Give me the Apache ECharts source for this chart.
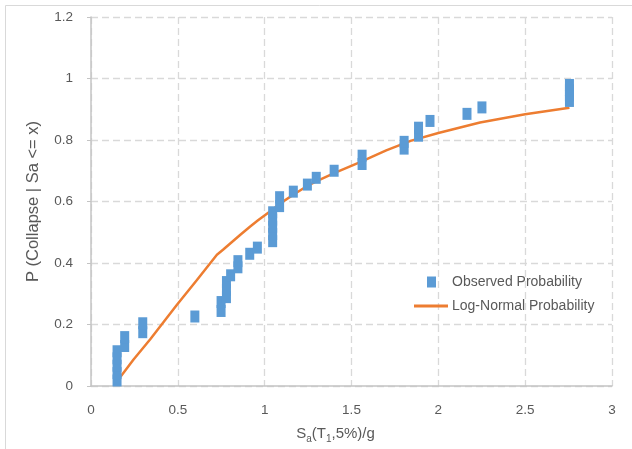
<!DOCTYPE html>
<html>
<head>
<meta charset="utf-8">
<script src="https://cdn.jsdelivr.net/npm/echarts@6/dist/echarts.min.js"></script>
<style>
  html, body { margin: 0; padding: 0; background: #fff; }
  #chart { width: 632px; height: 449px; }
</style>
</head>
<body>
<div id="chart"></div>
<script>
// Observed collapse fractions, one entry per record (Sa in g, cumulative probability)
const obsSa = [0.15, 0.15, 0.15, 0.15, 0.15, 0.194, 0.194, 0.298, 0.298, 0.598,
  0.749, 0.749, 0.78, 0.78, 0.78, 0.804, 0.846, 0.846, 0.914, 0.958,
  1.046, 1.046, 1.046, 1.046, 1.046, 1.086, 1.086, 1.165, 1.246, 1.297,
  1.40, 1.561, 1.561, 1.803, 1.803, 1.886, 1.886, 1.952, 2.165, 2.251,
  2.755, 2.755, 2.755, 2.755];
const obsP = [0.018, 0.042, 0.066, 0.09, 0.113, 0.13, 0.159, 0.175, 0.204, 0.226,
  0.244, 0.273, 0.289, 0.313, 0.338, 0.36, 0.386, 0.406, 0.43, 0.45,
  0.471, 0.494, 0.518, 0.541, 0.565, 0.585, 0.614, 0.632, 0.655, 0.677,
  0.70, 0.722, 0.749, 0.772, 0.794, 0.814, 0.84, 0.862, 0.885, 0.906,
  0.927, 0.945, 0.962, 0.979];

// Fitted log-normal fragility curve
const fitSa = [0.17, 0.245, 0.34, 0.495, 0.61, 0.725, 0.76, 0.86, 0.915, 0.96,
  1.05, 1.09, 1.165, 1.24, 1.3, 1.4, 1.55, 1.62, 1.7, 1.84, 2.0,
  2.24, 2.5, 2.755];
const fitP = [0.03, 0.086, 0.151, 0.264, 0.345, 0.427, 0.443, 0.492, 0.518, 0.538,
  0.576, 0.594, 0.622, 0.649, 0.666, 0.692, 0.728, 0.746, 0.766, 0.797, 0.823,
  0.857, 0.884, 0.905];

const seriesNames = ['Observed Probability', 'Log-Normal Probability'];

const FONT = "'Liberation Sans', Arial, sans-serif";
const TEXT = '#595959';
const GRID = '#d9d9d9';
const AXIS = '#c4c4c4';

const chart = echarts.init(document.getElementById('chart'), null, { renderer: 'canvas' });

chart.setOption({
  animation: false,
  backgroundColor: '#ffffff',
  graphic: [{
    type: 'rect',
    shape: { x: 5.5, y: 5.5, width: 700, height: 500 },
    style: { fill: 'none', stroke: '#d9d9d9', lineWidth: 1 },
    silent: true
  }],
  grid: { left: 91, top: 17, right: 20, bottom: 62.5, containLabel: false },
  legend: [{
    data: [seriesNames[0]],
    orient: 'vertical',
    left: 422, top: 270,
    itemWidth: 9, itemHeight: 11,
    icon: 'rect',
    textStyle: { color: TEXT, fontFamily: FONT, fontSize: 14, padding: [0, 0, 0, 11] }
  }, {
    data: [seriesNames[1]],
    orient: 'vertical',
    left: 409, top: 294,
    itemWidth: 34, itemHeight: 3,
    icon: 'rect',
    textStyle: { color: TEXT, fontFamily: FONT, fontSize: 14, padding: [0, 0, 0, -1] }
  }],
  xAxis: {
    type: 'value',
    min: 0, max: 3, interval: 0.5,
    name: '{m|S}{s|a}{m|(T}{s|1}{m|,5%)/g}',
    nameLocation: 'middle',
    nameGap: 40,
    nameTextStyle: {
      padding: [0, 32, 0, 0],
      rich: {
        m: { fontFamily: FONT, fontSize: 15, color: TEXT, lineHeight: 18, verticalAlign: 'top' },
        s: { fontFamily: FONT, fontSize: 10, color: TEXT, lineHeight: 13, padding: [8, 0, 0, 0], verticalAlign: 'bottom' }
      }
    },
    axisLine: { show: true, onZero: false, lineStyle: { color: AXIS, width: 1.5 } },
    axisTick: { show: false },
    axisLabel: { color: TEXT, fontFamily: FONT, fontSize: 13.5, margin: 17 },
    splitLine: { show: true, lineStyle: { color: GRID, type: [7, 4], width: 1.3 } }
  },
  yAxis: {
    type: 'value',
    min: 0, max: 1.2, interval: 0.2,
    name: 'P (Collapse | Sa <= x)',
    nameLocation: 'middle',
    nameGap: 49,
    nameRotate: 90,
    nameTextStyle: { color: TEXT, fontFamily: FONT, fontSize: 16.5 },
    axisLine: { show: true, onZero: false, lineStyle: { color: AXIS, width: 1.5 } },
    axisTick: { show: true, length: 4, lineStyle: { color: AXIS } },
    axisLabel: { color: TEXT, fontFamily: FONT, fontSize: 13.5, margin: 18 },
    splitLine: { show: true, lineStyle: { color: GRID, type: [7, 4], width: 1.3 } }
  },
  series: [{
    name: seriesNames[0],
    type: 'scatter',
    symbol: 'rect',
    symbolSize: [9, 12],
    itemStyle: { color: '#5B9BD5', opacity: 1 },
    z: 3,
    data: obsSa.map((x, i) => [x, obsP[i]])
  }, {
    name: seriesNames[1],
    type: 'line',
    showSymbol: false,
    symbol: 'none',
    smooth: false,
    lineStyle: { color: '#ED7D31', width: 2.5 },
    itemStyle: { color: '#ED7D31' },
    z: 2,
    data: fitSa.map((x, i) => [x, fitP[i]])
  }]
});
</script>
</body>
</html>
